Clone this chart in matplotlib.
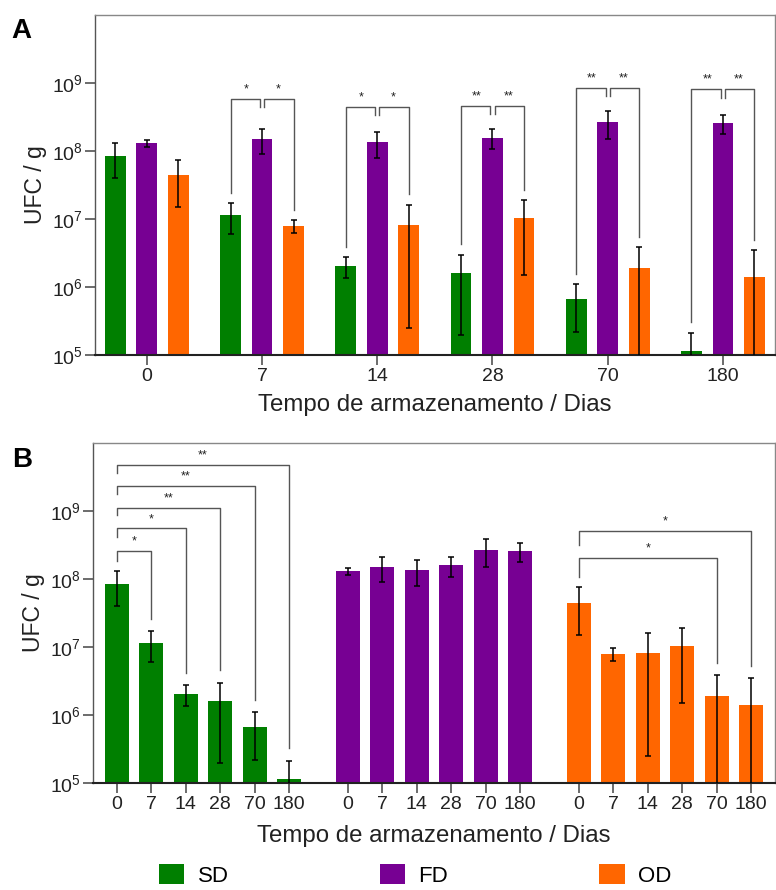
import numpy as np
import matplotlib
matplotlib.use('Agg')
import matplotlib.pyplot as plt
from matplotlib.patches import Patch

plt.rcParams['font.family'] = ['Liberation Sans', 'DejaVu Sans']

days = ['0', '7', '14', '28', '70', '180']
groups = ['SD', 'FD', 'OD']
colors = ['#007f00', '#770093', '#ff6600']

sd_mean = [8.5e7, 1.15e7, 2.05e6, 1.6e6, 6.7e5, 1.15e5]
sd_err = [4.5e7, 5.5e6, 7.0e5, 1.4e6, 4.5e5, 1.0e5]
fd_mean = [1.3e8, 1.5e8, 1.35e8, 1.58e8, 2.7e8, 2.6e8]
fd_err = [1.5e7, 6.0e7, 5.5e7, 5.0e7, 1.2e8, 8.0e7]
od_mean = [4.5e7, 8.0e6, 8.3e6, 1.03e7, 1.9e6, 1.4e6]
od_err = [3.0e7, 1.8e6, 8.05e6, 8.8e6, 2.0e6, 2.1e6]

# panel A: SD / OD vs FD at each day
sig_a = ['', '*', '*', '**', '**', '**']
brk_a = [None, 5.8e8, 4.5e8, 4.6e8, 8.5e8, 8.1e8]

# panel B: day 0 vs day k within a group
sig_b_sd = [(1, '*', 2.6e8), (2, '*', 5.5e8), (3, '**', 1.1e9),
            (4, '**', 2.3e9), (5, '**', 4.7e9)]
sig_b_od = [(4, '*', 2.0e8), (5, '*', 5.1e8)]

means = [np.array(sd_mean), np.array(fd_mean), np.array(od_mean)]
errs = [np.array(sd_err), np.array(fd_err), np.array(od_err)]

BRK = '#555555'
ERR = dict(ecolor='black', elinewidth=1.1, capsize=2.5, capthick=1.1)


def yerr_of(m, e):
    return [np.minimum(e, m * 0.999), e]


def style_axes(ax):
    ax.set_yscale('log')
    ax.set_ylim(1e5, 1e10)
    ax.set_yticks([1e5, 1e6, 1e7, 1e8, 1e9])
    ax.set_yticklabels(['$\\mathregular{10^{%d}}$' % k for k in range(5, 10)])
    ax.yaxis.set_minor_locator(matplotlib.ticker.NullLocator())
    for s in ['top', 'right']:
        ax.spines[s].set_color('#888888')
        ax.spines[s].set_linewidth(1.0)
    ax.spines['left'].set_color('#555555')
    ax.spines['left'].set_linewidth(1.0)
    ax.spines['bottom'].set_color('#222222')
    ax.spines['bottom'].set_linewidth(1.5)
    ax.tick_params(axis='both', length=7, width=1.1, color='#444444',
                   labelsize=14, labelcolor='#222222', pad=2)
    ax.set_ylabel('UFC / g', fontsize=16.5, color='#222222', labelpad=3)
    ax.set_xlabel('Tempo de armazenamento / Dias', fontsize=17.3,
                  color='#222222', labelpad=7)


def star(ax, x, y, s):
    ax.text(x, y * 10 ** 0.14, s, ha='center', va='center', fontsize=9,
            color='#222222')


fig = plt.figure(figsize=(7.76, 8.90), dpi=100)
axA = fig.add_axes([0.1224, 0.601, 0.876, 0.382])
axB = fig.add_axes([0.1198, 0.1199, 0.879, 0.3827])

# ---- panel A
x = np.arange(len(days))
off = 0.273
w = 0.18
for g in range(3):
    xs = x + (g - 1) * off
    axA.bar(xs, means[g], w, color=colors[g], bottom=1e-3, zorder=2)
    axA.errorbar(xs, means[g], yerr=yerr_of(means[g], errs[g]), fmt='none',
                 zorder=3, **ERR)
axA.set_xlim(-0.45, 5.45)
axA.set_xticks(x)
axA.set_xticklabels(days)
style_axes(axA)

gap = 0.018
for i in range(len(days)):
    if brk_a[i] is None:
        continue
    h = brk_a[i]
    xl, xm, xr = i - off, i, i + off
    lb = (sd_mean[i] + sd_err[i]) * 10 ** 0.15
    rb = (od_mean[i] + od_err[i]) * 10 ** 0.15
    mb = h / 10 ** 0.12
    axA.plot([xl, xl, xm - gap, xm - gap], [lb, h, h, mb], color=BRK, lw=1)
    axA.plot([xm + gap, xm + gap, xr, xr], [mb, h, h, rb], color=BRK, lw=1)
    star(axA, (xl + xm) / 2, h, sig_a[i])
    star(axA, (xm + xr) / 2, h, sig_a[i])

# ---- panel B
step = 6.7
xb_all = []
for g in range(3):
    xs = np.arange(len(days)) + g * step
    xb_all.extend(xs)
    axB.bar(xs, means[g], 0.7, color=colors[g], bottom=1e-3, zorder=2)
    axB.errorbar(xs, means[g], yerr=yerr_of(means[g], errs[g]), fmt='none',
                 zorder=3, **ERR)
axB.set_xlim(-0.69, 2 * step + 5 + 0.69)
axB.set_xticks(xb_all)
axB.set_xticklabels(days * 3)
style_axes(axB)
axB.xaxis.labelpad = 9


def brackets_b(ax, g, sigs):
    m, e = means[g], errs[g]
    x0 = g * step
    prev = None
    for k, s, h in sigs:
        lb = (m[0] + e[0]) * 10 ** 0.15
        if prev is not None:
            lb = max(lb, prev * 10 ** 0.2)
        rb = (m[k] + e[k]) * 10 ** 0.18
        ax.plot([x0, x0, x0 + k, x0 + k], [lb, h, h, rb], color=BRK, lw=1)
        star(ax, x0 + k / 2, h, s)
        prev = h


brackets_b(axB, 0, sig_b_sd)
brackets_b(axB, 2, sig_b_od)

fig.text(0.015, 0.957, 'A', fontsize=20, fontweight='bold')
fig.text(0.015, 0.475, 'B', fontsize=20, fontweight='bold')

handles = [Patch(facecolor=c, edgecolor='none') for c in colors]
fig.legend(handles, groups, loc='center', bbox_to_anchor=(0.535, 0.0165),
           ncol=3, frameon=False, fontsize=16, handlelength=1.15,
           handleheight=1.0, handletextpad=0.6, columnspacing=6.8,
           borderpad=0)

fig.savefig('out.png', dpi=100)
